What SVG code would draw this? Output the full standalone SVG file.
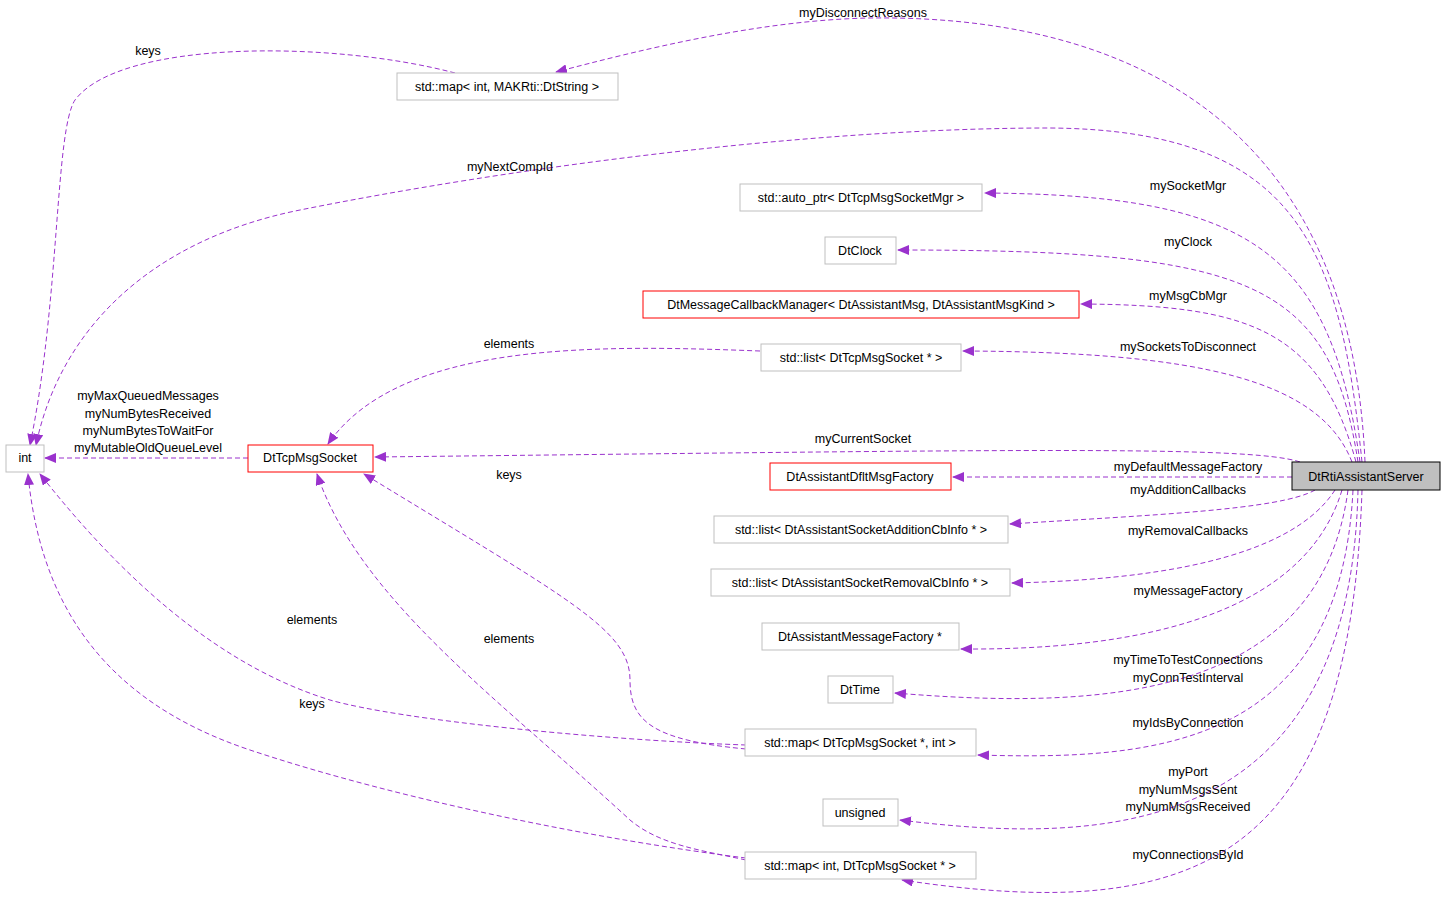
<svg xmlns="http://www.w3.org/2000/svg" width="1445" height="920" viewBox="0 0 1445 920">
<style>
text{font-family:"Liberation Sans",Arial,sans-serif;font-size:12.5px;fill:#000}
.n{fill:#fff;stroke:#bfbfbf;stroke-width:1}
.r{fill:#fff;stroke:#ff0000;stroke-width:1}
.e{fill:none;stroke:#9a32cd;stroke-width:1;stroke-dasharray:5,3;marker-end:url(#a)}
.c{text-anchor:middle}
</style>
<defs><marker id="a" markerWidth="12" markerHeight="10" refX="11" refY="5" orient="auto" markerUnits="userSpaceOnUse"><path d="M0,0 L12,5 L0,10 z" fill="#9a32cd"/></marker></defs>
<rect width="1445" height="920" fill="#fff"/>
<g id="connectors">
<path class="e" d="M1365,462 C1350,100 1100,15 870,18 C760,20 640,50 556,72"/>
<path class="e" d="M455,73 C330,40 120,40 75,100 C55,130 60,300 30,445"/>
<path class="e" d="M1362,462 C1340,250 1300,130 1050,128 C800,128 500,170 300,210 C150,240 60,330 36,445"/>
<path class="e" d="M1360,462 C1330,250 1250,195 985,193"/>
<path class="e" d="M1358,462 C1330,280 1250,250 898,250"/>
<path class="e" d="M1356,462 C1320,330 1250,305 1081,304"/>
<path class="e" d="M1352,462 C1320,380 1200,352 963,351"/>
<path class="e" d="M760,351 C600,345 400,340 328,444"/>
<path class="e" d="M1300,462 C1250,445 1000,450 375,457"/>
<path class="e" d="M1292,477 L953,477"/>
<path class="e" d="M1315,490 C1280,510 1150,515 1010,524"/>
<path class="e" d="M1335,490 C1290,560 1150,580 1012,583"/>
<path class="e" d="M1342,490 C1300,630 1100,650 961,649"/>
<path class="e" d="M1348,490 C1320,700 1100,710 895,693"/>
<path class="e" d="M1353,490 C1340,750 1150,760 978,755"/>
<path class="e" d="M1358,490 C1350,840 1100,845 900,820"/>
<path class="e" d="M1362,490 C1350,860 1200,925 902,880"/>
<path class="e" d="M746,749 C650,740 630,720 630,680 C630,630 570,600 364,474"/>
<path class="e" d="M746,745 C600,740 400,720 330,700 C200,660 100,550 40,474"/>
<path class="e" d="M746,860 C700,850 660,845 630,820 C500,700 360,600 317,474"/>
<path class="e" d="M746,858 C600,840 400,800 250,750 C100,700 40,600 28,474"/>
<path class="e" d="M248,458 L45,458"/>
</g>
<g id="labels">
<text class="c" x="863" y="17">myDisconnectReasons</text>
<text class="c" x="148" y="55">keys</text>
<text class="c" x="510" y="171">myNextCompId</text>
<text class="c" x="1188" y="190">mySocketMgr</text>
<text class="c" x="1188" y="246">myClock</text>
<text class="c" x="1188" y="300">myMsgCbMgr</text>
<text class="c" x="509" y="348">elements</text>
<text class="c" x="1188" y="351">mySocketsToDisconnect</text>
<text class="c" x="148" y="400">myMaxQueuedMessages</text>
<text class="c" x="148" y="418">myNumBytesReceived</text>
<text class="c" x="148" y="435">myNumBytesToWaitFor</text>
<text class="c" x="148" y="452">myMutableOldQueueLevel</text>
<text class="c" x="863" y="443">myCurrentSocket</text>
<text class="c" x="1188" y="471">myDefaultMessageFactory</text>
<text class="c" x="509" y="479">keys</text>
<text class="c" x="1188" y="494">myAdditionCallbacks</text>
<text class="c" x="1188" y="535">myRemovalCallbacks</text>
<text class="c" x="1188" y="595">myMessageFactory</text>
<text class="c" x="312" y="624">elements</text>
<text class="c" x="509" y="643">elements</text>
<text class="c" x="1188" y="664">myTimeToTestConnections</text>
<text class="c" x="1188" y="682">myConnTestInterval</text>
<text class="c" x="312" y="708">keys</text>
<text class="c" x="1188" y="727">myIdsByConnection</text>
<text class="c" x="1188" y="776">myPort</text>
<text class="c" x="1188" y="794">myNumMsgsSent</text>
<text class="c" x="1188" y="811">myNumMsgsReceived</text>
<text class="c" x="1188" y="859">myConnectionsById</text>
</g>
<g id="int"><rect class="n" x="6" y="445" width="38" height="27"/><text class="c" x="25" y="462">int</text></g>
<g id="DtTcpMsgSocket"><rect class="r" x="248" y="445" width="125" height="27"/><text class="c" x="310" y="462">DtTcpMsgSocket</text></g>
<g id="mapIntString"><rect class="n" x="397" y="73" width="221" height="27"/><text class="c" x="507" y="91">std::map&lt; int, MAKRti::DtString &gt;</text></g>
<g id="autoPtr"><rect class="n" x="740" y="184" width="242" height="27"/><text class="c" x="861" y="202">std::auto_ptr&lt; DtTcpMsgSocketMgr &gt;</text></g>
<g id="DtClock"><rect class="n" x="825" y="237" width="71" height="27"/><text class="c" x="860" y="255">DtClock</text></g>
<g id="CbMgr"><rect class="r" x="643" y="291" width="436" height="27"/><text class="c" x="861" y="309">DtMessageCallbackManager&lt; DtAssistantMsg, DtAssistantMsgKind &gt;</text></g>
<g id="listSock"><rect class="n" x="761" y="344" width="200" height="27"/><text class="c" x="861" y="362">std::list&lt; DtTcpMsgSocket * &gt;</text></g>
<g id="DfltFactory"><rect class="r" x="770" y="463" width="181" height="27"/><text class="c" x="860" y="481">DtAssistantDfltMsgFactory</text></g>
<g id="listAdd"><rect class="n" x="714" y="516" width="294" height="27"/><text class="c" x="861" y="534">std::list&lt; DtAssistantSocketAdditionCbInfo * &gt;</text></g>
<g id="listRem"><rect class="n" x="711" y="569" width="299" height="27"/><text class="c" x="860" y="587">std::list&lt; DtAssistantSocketRemovalCbInfo * &gt;</text></g>
<g id="MsgFactory"><rect class="n" x="762" y="623" width="197" height="27"/><text class="c" x="860" y="641">DtAssistantMessageFactory *</text></g>
<g id="DtTime"><rect class="n" x="828" y="676" width="65" height="27"/><text class="c" x="860" y="694">DtTime</text></g>
<g id="mapSockInt"><rect class="n" x="745" y="729" width="231" height="27"/><text class="c" x="860" y="747">std::map&lt; DtTcpMsgSocket *, int &gt;</text></g>
<g id="unsigned"><rect class="n" x="823" y="799" width="75" height="27"/><text class="c" x="860" y="817">unsigned</text></g>
<g id="mapIntSock"><rect class="n" x="745" y="852" width="231" height="27"/><text class="c" x="860" y="870">std::map&lt; int, DtTcpMsgSocket * &gt;</text></g>
<g id="Server"><rect x="1292" y="462" width="148" height="28" fill="#bfbfbf" stroke="#000"/><text class="c" x="1366" y="481">DtRtiAssistantServer</text></g>
</svg>
